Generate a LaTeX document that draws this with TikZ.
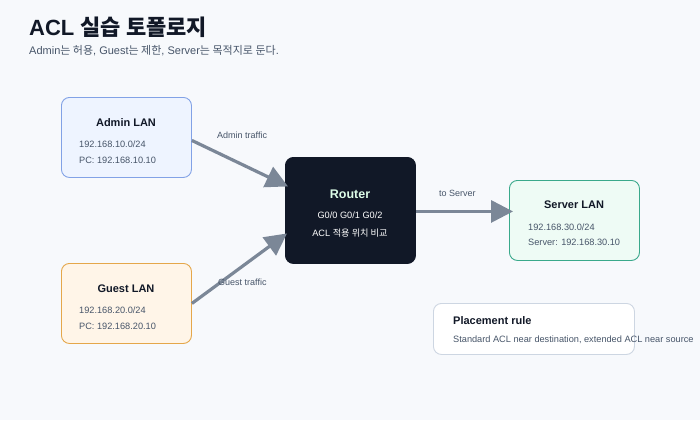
\documentclass[tikz,border=0pt]{standalone}
\usepackage{fontspec}
\setmainfont{Liberation Sans}
\newfontfamily\kr{Noto Sans CJK KR}
\usetikzlibrary{arrows.meta}

\definecolor{bgcol}{HTML}{F7F9FC}
\definecolor{ink}{HTML}{111827}
\definecolor{muted}{HTML}{475569}
\definecolor{adminfill}{HTML}{EEF4FF}
\definecolor{admindraw}{HTML}{82A2E6}
\definecolor{guestfill}{HTML}{FFF5E8}
\definecolor{guestdraw}{HTML}{E5A74A}
\definecolor{serverfill}{HTML}{EEFBF5}
\definecolor{serverdraw}{HTML}{3AA98B}
\definecolor{ruledraw}{HTML}{CDD6E2}
\definecolor{routertitle}{HTML}{DCFCE7}
\definecolor{flowcol}{HTML}{7B8797}

\begin{document}
\begin{tikzpicture}[x=1pt, y=-1pt,
    box/.style={rounded corners=8pt, line width=0.9pt, anchor=north west,
      minimum width=130pt, minimum height=80pt, inner sep=0pt},
    head/.style={anchor=base, inner sep=0pt, font=\bfseries\fontsize{11}{13}\selectfont, text=ink},
    info/.style={anchor=base west, inner sep=0pt, font=\fontsize{9.2}{11}\selectfont, text=muted},
    lbl/.style={anchor=base west, inner sep=0pt, font=\fontsize{9}{11}\selectfont, text=muted},
    flow/.style={draw=flowcol, line width=3.2pt, -{Triangle[length=22pt, width=22pt]}}]
    % background
    \fill [bgcol] (0,0) rectangle (700,420);
    % title
    \node [anchor=base west, inner sep=0pt, text=ink, font=\bfseries\fontsize{22}{26}\selectfont]
      (title) at (29,36) {ACL {\kr 실습 토폴로지}};
    \node [anchor=base west, inner sep=0pt, text=muted, font=\fontsize{11}{13}\selectfont]
      (subtitle) at (29,55) {Admin{\kr 는 허용}, Guest{\kr 는 제한}, Server{\kr 는 목적지로 둔다}.};
    % boxes
    \node [box, fill=adminfill, draw=admindraw] (admin) at (61,97) {};
    \node [box, fill=guestfill, draw=guestdraw] (guest) at (61,263) {};
    \node [box, fill=ink, draw=ink, minimum height=106pt] (router) at (285,157) {};
    \node [box, fill=serverfill, draw=serverdraw] (server) at (509,180) {};
    \node [box, fill=white, draw=ruledraw, minimum width=201pt, minimum height=51pt] (rule) at (433,303) {};
    % admin
    \node [head] (admin-t) at (126,126) {Admin LAN};
    \node [info] (admin-a) at (79,147) {192.168.10.0/24};
    \node [info] (admin-b) at (79,163) {PC: 192.168.10.10};
    % guest
    \node [head] (guest-t) at (126,292) {Guest LAN};
    \node [info] (guest-a) at (79,313) {192.168.20.0/24};
    \node [info] (guest-b) at (79,329) {PC: 192.168.20.10};
    % router
    \node [anchor=base, inner sep=0pt, text=routertitle, font=\bfseries\fontsize{12.5}{15}\selectfont] (router-t) at (350,198) {Router};
    \node [anchor=base, inner sep=0pt, text=white, font=\fontsize{9.2}{11}\selectfont] (router-a) at (350,218) {G0/0 G0/1 G0/2};
    \node [anchor=base, inner sep=0pt, text=white, font=\fontsize{9.2}{11}\selectfont] (router-b) at (350,236) {ACL {\kr 적용 위치 비교}};
    % server
    \node [head] (server-t) at (574,208) {Server LAN};
    \node [info] (server-a) at (528,230) {192.168.30.0/24};
    \node [info] (server-b) at (528,245) {Server: 192.168.30.10};
    % rule
    \node [anchor=base west, inner sep=0pt, text=ink, font=\bfseries\fontsize{11}{13}\selectfont] (rule-t) at (453,324) {Placement rule};
    \node [info] (rule-a) at (453,342) {Standard ACL near destination, extended ACL near source};
    % traffic
    \draw [flow] ([yshift=-3pt]admin.east) -- ([xshift=3pt, yshift=24pt]router.west);
    \draw [flow] (guest.east) -- ([xshift=2pt, yshift=-23pt]router.west);
    \draw [flow] ([yshift=-1pt]router.east) -- ([xshift=4pt, yshift=9pt]server.west);
    \node [lbl] (admin-l) at (217,138) {Admin traffic};
    \node [lbl] (guest-l) at (218,285) {Guest traffic};
    \node [lbl] (server-l) at (439,196) {to Server};
\end{tikzpicture}
\end{document}
